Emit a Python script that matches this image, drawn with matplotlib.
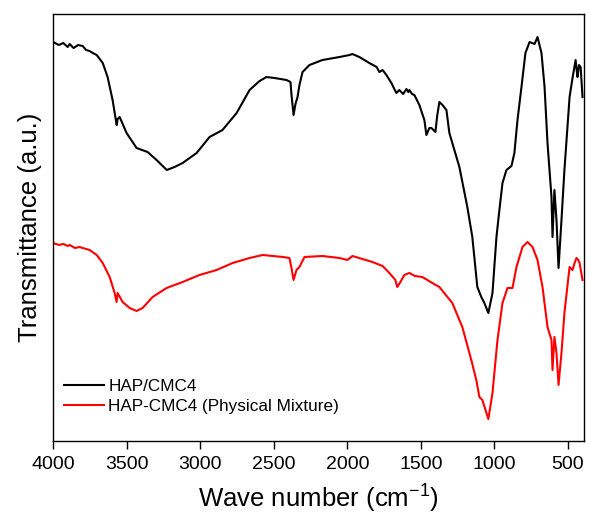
import numpy as np
import matplotlib
matplotlib.use("Agg")
import matplotlib.pyplot as plt

plt.rcParams['font.family'] = ['Liberation Sans', 'DejaVu Sans']
plt.rcParams['mathtext.fontset'] = 'custom'
plt.rcParams['mathtext.rm'] = 'Liberation Sans'

# wavenumbers (cm-1) and transmittance (a.u.)
wn_black = [4000, 3960, 3930, 3900, 3887, 3860, 3830, 3798, 3775, 3751, 3730,
            3703, 3662, 3629, 3595, 3574, 3567, 3561, 3547, 3500, 3432, 3357,
            3296, 3227, 3174, 3119, 3024, 2936, 2848, 2752, 2664, 2596, 2549,
            2494, 2413, 2386, 2379, 2365, 2352, 2338, 2325, 2304, 2257, 2169,
            2053, 1985, 1965, 1918, 1850, 1800, 1782, 1760, 1734, 1700, 1680,
            1666, 1646, 1620, 1598, 1585, 1578, 1560, 1544, 1510, 1476, 1462,
            1442, 1428, 1401, 1388, 1374, 1353, 1326, 1306, 1238, 1184, 1150,
            1116, 1089, 1068, 1041, 1013, 986, 966, 945, 918, 884, 864, 843,
            816, 789, 761, 727, 707, 680, 659, 639, 612, 605, 592, 578, 564,
            544, 524, 489, 469, 448, 440, 435, 425, 414, 401]
t_black = [399, 396, 398, 394, 397, 393, 396, 395, 391, 390, 388,
           386, 378, 364, 341, 322, 316, 322, 324, 308, 293, 289,
           281, 271, 274, 278, 288, 304, 311, 328, 351, 360, 364,
           363, 361, 359, 346, 326, 337, 344, 356, 369, 376, 381,
           384, 386, 387, 384, 378, 374, 369, 371, 366, 358, 352,
           348, 351, 347, 352, 349, 351, 347, 346, 336, 321, 306,
           313, 313, 309, 326, 339, 336, 331, 308, 274, 234, 204,
           154, 144, 138, 128, 148, 204, 231, 258, 271, 275, 288, 321,
           354, 388, 399, 397, 404, 388, 354, 298, 244, 204, 251, 221, 173,
           221, 271, 344, 363, 381, 370, 364, 376, 374, 344]

wn_red = [4000, 3960, 3930, 3900, 3887, 3850, 3820, 3798, 3751, 3703, 3662,
          3615, 3581, 3568, 3561, 3527, 3479, 3432, 3391, 3323, 3228, 3119,
          3004, 2888, 2779, 2664, 2575, 2438, 2393, 2379, 2365, 2345, 2325,
          2291, 2169, 2053, 1999, 1965, 1829, 1760, 1714, 1673, 1660, 1639,
          1612, 1578, 1540, 1490, 1422, 1374, 1286, 1218, 1157, 1123, 1102,
          1082, 1041, 1013, 979, 945, 911, 877, 850, 809, 775, 741, 707,
          673, 639, 612, 605, 592, 578, 564, 544, 524, 489, 469, 455, 442,
          430, 421, 401]
t_red = [198, 196, 197, 195, 196, 193, 194, 193, 191, 186, 178,
         164, 148, 139, 148, 139, 133, 130, 133, 144, 153, 159,
         166, 171, 178, 183, 186, 184, 183, 173, 161, 171, 174,
         184, 185, 183, 181, 185, 179, 175, 168, 161, 154, 159,
         166, 168, 165, 164, 158, 154, 138, 114, 81, 61, 44,
         41, 22, 48, 101, 138, 153, 153, 174, 194, 199, 194, 181,
         154, 114, 101, 71, 104, 88, 56, 88, 128, 174, 171, 178, 183,
         181, 178, 161]

labels = ['HAP/CMC4', 'HAP-CMC4 (Physical Mixture)']

fig = plt.figure(figsize=(5.89, 5.21), dpi=100)
ax = fig.add_axes([0.090, 0.1536, 0.9015, 0.8195])

ax.plot(wn_black, t_black, color='black', lw=1.5, label=labels[0])
ax.plot(wn_red, t_red, color='#ff0000', lw=1.5, label=labels[1])

ax.set_xlim(4000, 391)
ax.set_ylim(0, 427)
ax.set_xticks([4000, 3500, 3000, 2500, 2000, 1500, 1000, 500])
ax.set_yticks([])
ax.tick_params(axis='x', labelsize=14, length=6, width=1, direction='out', pad=5)
for s in ax.spines.values():
    s.set_linewidth(1.0)

ax.set_xlabel(r'Wave number (cm$^{\mathregular{-1}}$)', fontsize=18.5, labelpad=6)
ax.set_ylabel('Transmittance (a.u.)', fontsize=18.5, labelpad=8)

ax.legend(loc='upper left', bbox_to_anchor=(0.0213, 0.145), frameon=False,
          fontsize=12.3, handlelength=2.3, handletextpad=0.27,
          labelspacing=0.28, borderpad=0, borderaxespad=0)

plt.savefig('out.png')
